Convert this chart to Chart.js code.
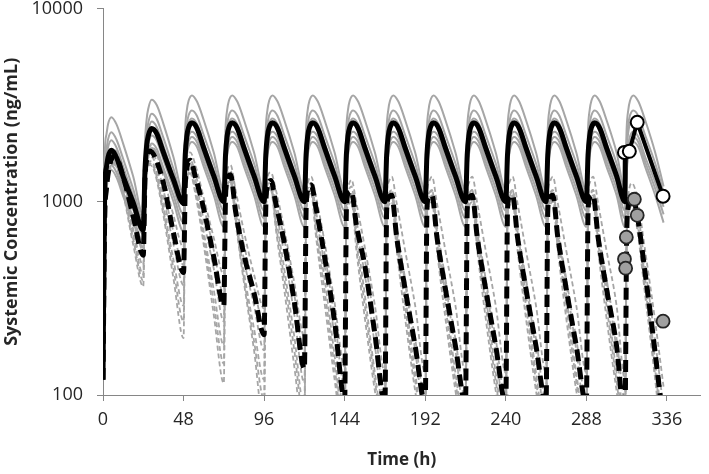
<!DOCTYPE html>
<html>
<head>
<meta charset="utf-8">
<script src="https://cdn.jsdelivr.net/npm/chart.js@4.4.1/dist/chart.umd.min.js"></script>
<style>
html,body{margin:0;padding:0;background:#fff;}
canvas{display:block;}
</style>
</head>
<body>
<canvas id="c" width="709" height="474"></canvas>
<script>
// ---------- data ----------
const doseTimes = [0,24,48,72,96,120,144,168,192,216,240,264,288,311];
const solidOffsets = [0,1,2,3,5,8,12,18];    // h after each dose
const dashedOffsets = [0,1,2,4,7,12,18];     // h after each dose
const xTicks = [0,48,96,144,192,240,288,336];
const yTicks = [100,1000,10000];

// black solid simulation (one row per dose, conc at solidOffsets)
const meanSolid = [
  [120,1150,1500,1700,1845,1700,1350,990],
  [713,1450,1950,2200,2390,2250,1800,1300],
  [980,1750,2200,2420,2560,2400,1900,1360],
  [1000,1750,2200,2420,2560,2400,1900,1360],
  [1000,1750,2200,2420,2560,2400,1900,1360],
  [1000,1750,2200,2420,2560,2400,1900,1360],
  [1000,1750,2200,2420,2560,2400,1900,1360],
  [1000,1750,2200,2420,2560,2400,1900,1360],
  [1000,1750,2200,2420,2560,2400,1900,1360],
  [1000,1750,2200,2420,2560,2400,1900,1360],
  [1000,1750,2200,2420,2560,2400,1900,1360],
  [1000,1750,2200,2420,2560,2400,1900,1360],
  [1000,1750,2200,2420,2560,2400,1900,1360]
];
const meanSolidTailT = [311, 311.2];
const meanSolidTailC = [1000, 1800];

// black dashed simulation (conc at dashedOffsets)
const meanDashed = [
  [120,800,1150,1550,1730,1350,840],
  [529,1300,1650,1830,1700,1250,690],
  [430,1200,1500,1640,1350,920,518],
  [290,1050,1300,1380,893,531,337],
  [205,950,1200,1290,980,615,304],
  [137,900,1150,1220,920,520,240],
  [95,900,1100,1130,755,467,207],
  [90,900,1050,1080,653,354,179],
  [90,900,1050,1080,653,354,179],
  [90,900,1050,1080,653,354,179],
  [90,900,1050,1080,653,354,179],
  [90,900,1050,1080,653,354,179],
  [90,900,1050,1080,653,354,179],
  [75,650,950,1080,880,430,165]
];
const meanDashedEnd = [334, 70];

// grey solid individual simulations (conc at solidOffsets)
const greySolid1 = [
  [120,1700,2220,2520,2740,2520,2000,1350],
  [850,2000,2670,3040,3375,3170,2530,1700],
  [1100,2400,3000,3330,3550,3300,2650,1800],
  [1150,2400,3000,3330,3550,3300,2650,1800],[1150,2400,3000,3330,3550,3300,2650,1800],
  [1150,2400,3000,3330,3550,3300,2650,1800],[1150,2400,3000,3330,3550,3300,2650,1800],
  [1150,2400,3000,3330,3550,3300,2650,1800],[1150,2400,3000,3330,3550,3300,2650,1800],
  [1150,2400,3000,3330,3550,3300,2650,1800],[1150,2400,3000,3330,3550,3300,2650,1800],
  [1150,2400,3000,3330,3550,3300,2650,1800],[1150,2400,3000,3330,3550,3300,2650,1800],
  [1150,2400,3000,3330,3550,3300,2650,1800]
];
const greySolid2 = [
  [120,1420,1850,2100,2290,2100,1670,1160],
  [800,1680,2250,2570,2850,2680,2140,1480],
  [1030,2020,2520,2800,2970,2780,2210,1580],
  [1080,2020,2520,2800,2970,2780,2210,1580],[1080,2020,2520,2800,2970,2780,2210,1580],
  [1080,2020,2520,2800,2970,2780,2210,1580],[1080,2020,2520,2800,2970,2780,2210,1580],
  [1080,2020,2520,2800,2970,2780,2210,1580],[1080,2020,2520,2800,2970,2780,2210,1580],
  [1080,2020,2520,2800,2970,2780,2210,1580],[1080,2020,2520,2800,2970,2780,2210,1580],
  [1080,2020,2520,2800,2970,2780,2210,1580],[1080,2020,2520,2800,2970,2780,2210,1580],
  [1080,2020,2520,2800,2970,2780,2210,1580]
];
const greySolid3 = [
  [120,1290,1680,1910,2080,1910,1520,1070],
  [760,1530,2050,2340,2600,2440,1950,1360],
  [960,1840,2300,2550,2700,2530,2010,1440],
  [1000,1840,2300,2550,2700,2530,2010,1440],[1000,1840,2300,2550,2700,2530,2010,1440],
  [1000,1840,2300,2550,2700,2530,2010,1440],[1000,1840,2300,2550,2700,2530,2010,1440],
  [1000,1840,2300,2550,2700,2530,2010,1440],[1000,1840,2300,2550,2700,2530,2010,1440],
  [1000,1840,2300,2550,2700,2530,2010,1440],[1000,1840,2300,2550,2700,2530,2010,1440],
  [1000,1840,2300,2550,2700,2530,2010,1440],[1000,1840,2300,2550,2700,2530,2010,1440],
  [1000,1840,2300,2550,2700,2530,2010,1440]
];
const greySolid4 = [
  [120,1050,1380,1560,1700,1560,1240,910],
  [680,1300,1740,1980,2200,2070,1650,1180],
  [860,1570,1970,2180,2300,2160,1710,1260],
  [900,1570,1970,2180,2300,2160,1710,1260],[900,1570,1970,2180,2300,2160,1710,1260],
  [900,1570,1970,2180,2300,2160,1710,1260],[900,1570,1970,2180,2300,2160,1710,1260],
  [900,1570,1970,2180,2300,2160,1710,1260],[900,1570,1970,2180,2300,2160,1710,1260],
  [900,1570,1970,2180,2300,2160,1710,1260],[900,1570,1970,2180,2300,2160,1710,1260],
  [900,1570,1970,2180,2300,2160,1710,1260],[900,1570,1970,2180,2300,2160,1710,1260],
  [900,1570,1970,2180,2300,2160,1710,1260]
];
const greySolid5 = [
  [120,950,1250,1420,1540,1420,1120,830],
  [620,1180,1580,1800,2000,1880,1500,1080],
  [780,1470,1850,2040,2160,2030,1610,1170],
  [820,1470,1850,2040,2160,2030,1610,1170],[820,1470,1850,2040,2160,2030,1610,1170],
  [820,1470,1850,2040,2160,2030,1610,1170],[820,1470,1850,2040,2160,2030,1610,1170],
  [820,1470,1850,2040,2160,2030,1610,1170],[820,1470,1850,2040,2160,2030,1610,1170],
  [820,1470,1850,2040,2160,2030,1610,1170],[820,1470,1850,2040,2160,2030,1610,1170],
  [820,1470,1850,2040,2160,2030,1610,1170],[820,1470,1850,2040,2160,2030,1610,1170],
  [820,1470,1850,2040,2160,2030,1610,1170]
];
const greySolid6 = [
  [120,900,1180,1340,1460,1340,1070,790],
  [580,1120,1500,1710,1900,1790,1430,1000],
  [700,1390,1750,1930,2040,1920,1520,1080],
  [740,1390,1750,1930,2040,1920,1520,1080],[740,1390,1750,1930,2040,1920,1520,1080],
  [740,1390,1750,1930,2040,1920,1520,1080],[740,1390,1750,1930,2040,1920,1520,1080],
  [740,1390,1750,1930,2040,1920,1520,1080],[740,1390,1750,1930,2040,1920,1520,1080],
  [740,1390,1750,1930,2040,1920,1520,1080],[740,1390,1750,1930,2040,1920,1520,1080],
  [740,1390,1750,1930,2040,1920,1520,1080],[740,1390,1750,1930,2040,1920,1520,1080],
  [740,1390,1750,1930,2040,1920,1520,1080]
];
const greySolidEndT = 334;
const greySolidEndC = [1200,1120,1040,940,860,780];

// grey dashed individual simulations (conc at dashedOffsets)
const greyDashed1 = [
  [120,850,1250,1650,1850,1500,950],[680,1450,1800,1950,1850,1350,850],
  [580,1400,1700,1800,1550,1050,650],[420,1200,1450,1550,1150,700,420],
  [280,1100,1350,1420,1150,720,380],[200,1000,1250,1350,1050,620,300],
  [140,1000,1200,1300,980,580,290],[130,1050,1250,1350,980,560,290],
  [130,1050,1250,1350,980,560,290],[130,1050,1250,1350,980,560,290],
  [130,1050,1250,1350,980,560,290],[130,1050,1250,1350,980,560,290],
  [130,1050,1250,1350,980,560,290],[120,780,1080,1250,1080,560,240]
];
const greyDashed2 = [
  [120,820,1200,1580,1680,1250,720],[470,1200,1550,1720,1600,1050,600],
  [370,1150,1420,1570,1300,800,450],[240,950,1200,1330,900,500,290],
  [170,900,1120,1200,900,540,260],[115,850,1070,1150,830,470,200],
  [80,850,1020,1100,720,420,180],[75,880,1050,1150,700,380,170],
  [75,880,1050,1150,700,380,170],[75,880,1050,1150,700,380,170],
  [75,880,1050,1150,700,380,170],[75,880,1050,1150,700,380,170],
  [75,880,1050,1150,700,380,170],[70,620,900,1000,850,400,150]
];
const greyDashed3 = [
  [120,750,1100,1450,1550,1100,600],[364,1100,1400,1550,1400,850,400],
  [197,1000,1270,1400,1100,600,260],[115,900,1150,1250,780,380,170],
  [70,850,1080,1150,720,350,140],[60,800,1020,1100,650,300,120],
  [55,780,950,1000,560,250,105],[55,780,950,1000,560,250,105],
  [55,780,950,1000,560,250,105],[55,780,950,1000,560,250,105],
  [55,780,950,1000,560,250,105],[55,780,950,1000,560,250,105],
  [55,780,950,1000,560,250,105],[55,580,850,950,750,330,120]
];
const greyDashed4 = [
  [120,800,1180,1550,1660,1300,820],[560,1300,1650,1800,1700,1150,700],
  [470,1250,1550,1650,1400,950,560],[330,1100,1350,1450,1000,600,360],
  [230,1000,1220,1300,1000,640,330],[160,950,1170,1250,880,540,250],
  [110,950,1130,1200,800,500,230],[95,950,1100,1150,740,400,195],
  [95,950,1100,1150,740,400,195],[95,950,1100,1150,740,400,195],
  [95,950,1100,1150,740,400,195],[95,950,1100,1150,740,400,195],
  [95,950,1100,1150,740,400,195],[95,700,1000,1100,950,460,190]
];
const greyDashed5 = [
  [120,780,1150,1500,1600,1150,680],[420,1150,1480,1620,1500,950,500],
  [290,1080,1350,1480,1200,700,350],[180,950,1200,1300,850,430,220],
  [120,880,1100,1200,830,450,200],[85,830,1050,1150,730,400,160],
  [65,820,1000,1080,680,330,130],[65,820,1000,1080,680,330,130],
  [65,820,1000,1080,680,330,130],[65,820,1000,1080,680,330,130],
  [65,820,1000,1080,680,330,130],[65,820,1000,1080,680,330,130],
  [65,820,1000,1080,680,330,130],[65,600,880,980,820,370,135]
];
const greyDashed6 = [
  [120,760,1120,1480,1580,1120,640],[390,1120,1440,1580,1450,900,450],
  [240,1040,1310,1440,1150,650,300],[145,920,1170,1270,810,400,190],
  [95,860,1090,1170,760,400,170],[72,810,1030,1120,690,350,140],
  [60,810,990,1060,620,290,118],[60,810,990,1060,620,290,118],
  [60,810,990,1060,620,290,118],[60,810,990,1060,620,290,118],
  [60,810,990,1060,620,290,118],[60,810,990,1060,620,290,118],
  [60,810,990,1060,620,290,118],[60,590,860,960,780,350,125]
];
const greyDashedEndT = 334;
const greyDashedEndC = [110,60,45,85,55,50];

// observed data
const obsSolidT = [310.7, 313.6, 318.3, 333.7];
const obsSolidC = [1800, 1824, 2576, 1068];
const obsDashedT = [310.7, 311.4, 311.8, 316.6, 318.3, 333.7];
const obsDashedC = [505, 453, 656, 1030, 851, 241];

// ---------- build point tables ----------
function table(rows, offsets) {
  const pts = [];
  rows.forEach((row, k) => row.forEach((c, j) => pts.push({x: doseTimes[k] + offsets[j], y: c})));
  return pts;
}
function pairs(ts, cs) { return ts.map((t, i) => ({x: t, y: cs[i]})); }

const GREY = '#a6a6a6';
const datasets = [];

datasets.push({
  data: pairs(obsSolidT, obsSolidC), order: 0, showLine: true,
  borderColor: '#000', borderWidth: 4, tension: 0,
  pointRadius: 6.5, pointBackgroundColor: '#fff', pointBorderColor: '#000', pointBorderWidth: 2
});
datasets.push({
  data: pairs(obsDashedT, obsDashedC), order: 1, showLine: false,
  pointRadius: 6.5, pointBackgroundColor: '#a0a0a0', pointBorderColor: '#262626', pointBorderWidth: 1.8
});
datasets.push({
  data: table(meanSolid, solidOffsets).concat(pairs(meanSolidTailT, meanSolidTailC)),
  order: 2, borderColor: '#000', borderWidth: 5, pointRadius: 0, cubicInterpolationMode: 'monotone'
});
datasets.push({
  data: table(meanDashed, dashedOffsets).concat([{x: meanDashedEnd[0], y: meanDashedEnd[1]}]),
  order: 3, borderColor: '#000', borderWidth: 5, borderDash: [12, 6], pointRadius: 0, cubicInterpolationMode: 'monotone'
});
[greySolid1, greySolid2, greySolid3, greySolid4, greySolid5, greySolid6].forEach((rows, i) => {
  datasets.push({
    data: table(rows, solidOffsets).concat([{x: greySolidEndT, y: greySolidEndC[i]}]),
    order: 4, borderColor: GREY, borderWidth: 2, pointRadius: 0, cubicInterpolationMode: 'monotone'
  });
});
[greyDashed1, greyDashed2, greyDashed3, greyDashed4, greyDashed5, greyDashed6].forEach((rows, i) => {
  datasets.push({
    data: table(rows, dashedOffsets).concat([{x: greyDashedEndT, y: greyDashedEndC[i]}]),
    order: 5, borderColor: GREY, borderWidth: 1.8, borderDash: [5, 3], pointRadius: 0, cubicInterpolationMode: 'monotone'
  });
});

const AXIS = '#868686';
const TXT = '#262626';
const FONT = 'Open Sans';

new Chart(document.getElementById('c'), {
  type: 'line',
  data: { datasets },
  options: {
    responsive: false,
    devicePixelRatio: 1,
    animation: false,
    layout: { padding: { top: 8, right: 4, left: 0, bottom: 0 } },
    plugins: { legend: { display: false }, tooltip: { enabled: false } },
    elements: { line: { fill: false } },
    scales: {
      x: {
        type: 'linear', min: 0, max: 356,
        afterBuildTicks: s => { s.ticks = xTicks.map(v => ({ value: v })); },
        afterFit: s => { s.height = 79; s.paddingLeft = 0; s.paddingRight = 0; },
        ticks: { autoSkip: false, maxRotation: 0, padding: 8, color: TXT,
                 font: { family: FONT, size: 18 }, callback: v => String(v) },
        grid: { display: true, drawOnChartArea: false, drawTicks: true, tickLength: 6, color: AXIS },
        border: { display: true, color: AXIS, width: 1 },
        title: { display: true, text: 'Time (h)', color: TXT,
                 font: { family: FONT, size: 17, weight: 'bold' }, padding: { top: 0, bottom: 4 } }
      },
      y: {
        type: 'logarithmic', min: 100, max: 10000,
        afterBuildTicks: s => { s.ticks = yTicks.map(v => ({ value: v })); },
        afterFit: s => { s.width = 103; s.paddingTop = 0; s.paddingBottom = 0; },
        ticks: { padding: 14, color: TXT, font: { family: FONT, size: 18 }, callback: v => String(v) },
        grid: { display: true, drawOnChartArea: false, drawTicks: true, tickLength: 6, color: AXIS },
        border: { display: true, color: AXIS, width: 1 },
        title: { display: true, text: 'Systemic Concentration (ng/mL)', color: TXT,
                 font: { family: FONT, size: 18, weight: 'bold' }, padding: { top: 1, bottom: 0 } }
      }
    }
  }
});
</script>
</body>
</html>
